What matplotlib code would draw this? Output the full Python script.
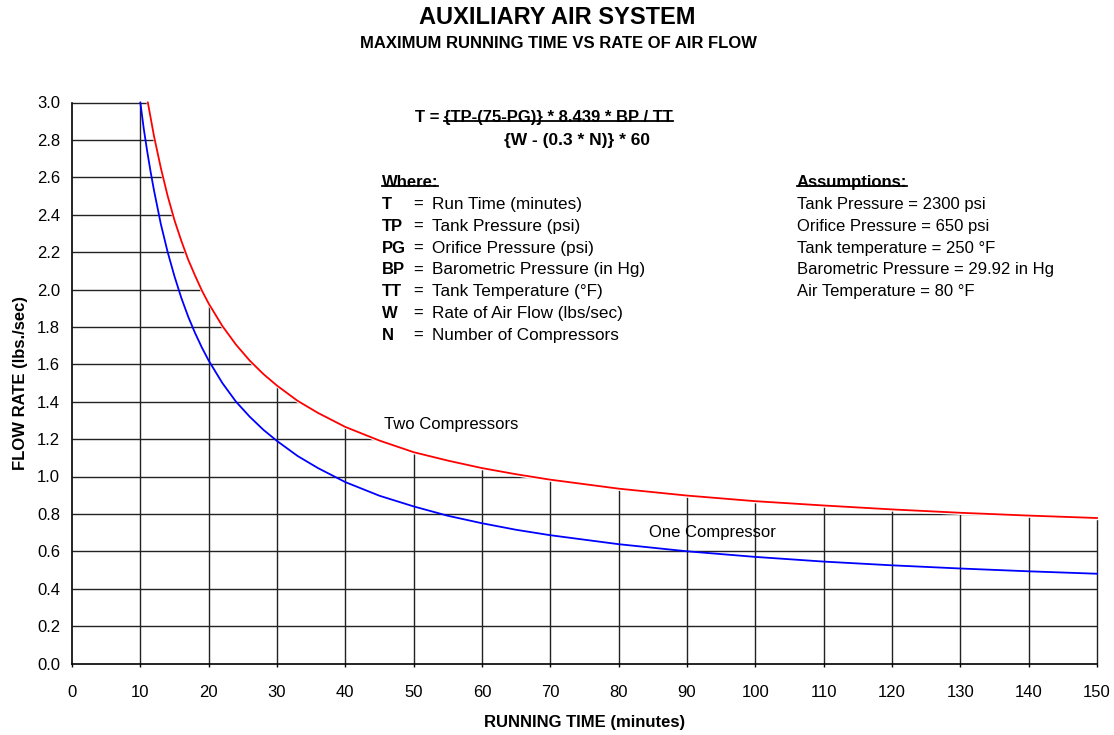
import matplotlib
matplotlib.use('Agg')
import matplotlib.pyplot as plt
from matplotlib.lines import Line2D

plt.rcParams['font.family'] = ['Liberation Sans', 'DejaVu Sans']

# values: running time (minutes) and flow rate (lbs/sec) along each curve
oneTime = [10, 10.5, 11, 11.5, 12, 13, 14, 15, 16, 17, 18, 19, 20, 22, 24, 26, 28, 30, 33, 36, 40,
           45, 50, 55, 60, 65, 70, 80, 90, 100, 110, 120, 130, 140, 150]
oneFlow = [3.00, 2.86, 2.74, 2.63, 2.53, 2.35, 2.20, 2.07, 1.955, 1.855, 1.768, 1.69, 1.62, 1.50, 1.40, 1.32,
           1.25, 1.19, 1.11, 1.045, 0.97, 0.897, 0.84, 0.79, 0.75, 0.715, 0.686, 0.638, 0.60, 0.57, 0.545,
           0.525, 0.508, 0.493, 0.48]
twoTime = [11.1, 11.5, 12, 13, 14, 15, 16, 17, 18, 19, 20, 22, 24, 26, 28, 30, 33, 36, 40, 45, 50, 55,
           60, 65, 70, 80, 90, 100, 110, 120, 130, 140, 150]
twoFlow = [3.00, 2.92, 2.82, 2.65, 2.50, 2.37, 2.26, 2.16, 2.075, 1.995, 1.925, 1.805, 1.705, 1.62, 1.548,
           1.486, 1.405, 1.34, 1.265, 1.192, 1.13, 1.085, 1.045, 1.012, 0.983, 0.935, 0.898, 0.868, 0.845,
           0.824, 0.806, 0.791, 0.778]

xTicks = list(range(0, 151, 10))
yTicks = [round(0.2 * i, 1) for i in range(16)]

whereRows = [('T', 'Run Time (minutes)'),
             ('TP', 'Tank Pressure (psi)'),
             ('PG', 'Orifice Pressure (psi)'),
             ('BP', 'Barometric Pressure (in Hg)'),
             ('TT', 'Tank Temperature (°F)'),
             ('W', 'Rate of Air Flow (lbs/sec)'),
             ('N', 'Number of Compressors')]
assumptionRows = ['Tank Pressure = 2300 psi',
                  'Orifice Pressure = 650 psi',
                  'Tank temperature = 250 °F',
                  'Barometric Pressure = 29.92 in Hg',
                  'Air Temperature = 80 °F']

W, H = 1114, 735
fig = plt.figure(figsize=(W / 100, H / 100), dpi=100)
ax = fig.add_axes([72 / W, 1 - 663.5 / H, 1025 / W, 561 / H])


def px(x, y):
    # image pixel position -> figure fraction
    return x / W, 1 - y / H


# grid lines, hidden above the two-compressor curve by a white mask
ax.vlines(xTicks[1:], 0, 3.0, color='#222222', lw=1.0, zorder=1, clip_on=False)
ax.hlines(yTicks[1:], 0, 150, color='#222222', lw=1.0, zorder=1, clip_on=False)
ax.fill_between(twoTime, twoFlow, 3.05, facecolor='white', edgecolor='white', lw=2.5, zorder=1.5,
                clip_on=False)

ax.plot(oneTime, oneFlow, color='#0000ff', lw=1.3, zorder=3, clip_on=False)
ax.plot(twoTime, twoFlow, color='#ff0000', lw=1.3, zorder=3, clip_on=False)

ax.set_xlim(0, 150)
ax.set_ylim(0, 3.0)
ax.set_xticks(xTicks)
ax.set_yticks(yTicks)
ax.set_yticklabels(['%.1f' % v for v in yTicks])
ax.tick_params(axis='x', direction='out', length=2.5, width=1, pad=13, labelsize=12)
ax.tick_params(axis='y', length=0, pad=8.5, labelsize=12)
for s in ['top', 'right']:
    ax.spines[s].set_visible(False)
for s in ['left', 'bottom']:
    ax.spines[s].set_linewidth(1.2)
    ax.spines[s].set_zorder(4)
ax.set_xlabel('RUNNING TIME (minutes)', fontsize=12, fontweight='bold', labelpad=10.5)
ax.set_ylabel('FLOW RATE (lbs./sec)', fontsize=12, fontweight='bold', labelpad=6.5)

ax.text(45.6, 1.28, 'Two Compressors', fontsize=12, va='center', ha='left', zorder=5)
ax.text(84.5, 0.70, 'One Compressor', fontsize=12, va='center', ha='left', zorder=5)

fig.text(*px(557, 18), 'AUXILIARY AIR SYSTEM', fontsize=17, fontweight='bold', ha='center', va='center')
fig.text(*px(558, 43), 'MAXIMUM RUNNING TIME VS RATE OF AIR FLOW', fontsize=12, fontweight='bold',
         ha='center', va='center')

underlined = []
fig.text(*px(415, 122), 'T =', fontsize=12, fontweight='bold', va='baseline')
underlined.append(fig.text(*px(444, 122), '{TP-(75-PG)} * 8.439 * BP / TT', fontsize=12, fontweight='bold',
                           va='baseline'))
fig.text(*px(504, 145), '{W - (0.3 * N)} * 60', fontsize=12.5, fontweight='bold', va='baseline')

underlined.append(fig.text(*px(382, 187), 'Where:', fontsize=12, fontweight='bold', va='baseline'))
for i, (k, desc) in enumerate(whereRows):
    y = 209 + 21.8 * i
    fig.text(*px(382, y), k, fontsize=12, fontweight='bold', va='baseline')
    fig.text(*px(413, y), '=', fontsize=12, va='baseline')
    fig.text(*px(432, y), desc, fontsize=12.3, va='baseline')

underlined.append(fig.text(*px(797, 187), 'Assumptions:', fontsize=12, fontweight='bold', va='baseline'))
for i, line in enumerate(assumptionRows):
    fig.text(*px(797, 209 + 21.8 * i), line, fontsize=12, va='baseline')

# underlines sit low, running through the bottom of the letters
fig.canvas.draw()
renderer = fig.canvas.get_renderer()
for t in underlined:
    bb = t.get_window_extent(renderer)
    yLine = (t.get_position()[1] * H + 1.5) / H
    fig.add_artist(Line2D([bb.x0 / W, bb.x1 / W], [yLine, yLine], transform=fig.transFigure,
                          color='black', lw=1.3))

fig.savefig('out.png', dpi=100)
